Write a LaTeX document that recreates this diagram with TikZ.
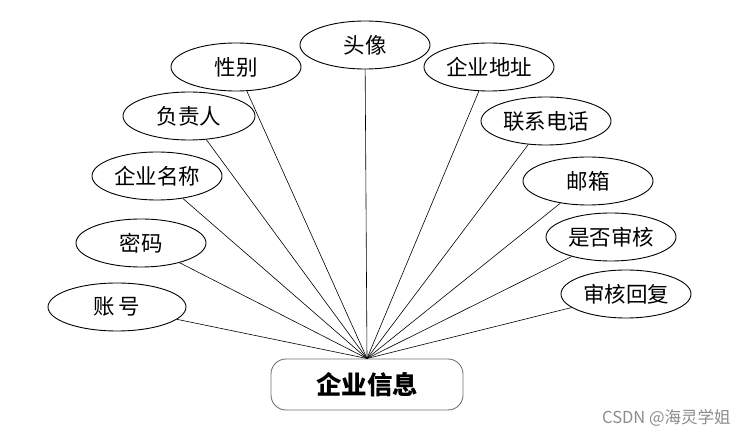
\documentclass[tikz,border=0pt]{standalone}
\usepackage{fontspec}
\newfontfamily\cjk{Noto Sans CJK SC}
\usetikzlibrary{shapes.geometric}
\begin{document}
\begin{tikzpicture}[x=1pt,y=-1pt,
  attr/.style={ellipse,draw,line width=0.9pt,minimum width=130pt,minimum height=48pt,inner sep=0pt,font=\cjk\fontsize{21.5}{21.5}\selectfont},
  ent/.style={rectangle,rounded corners=15pt,draw=black!55,line width=0.9pt,minimum width=192pt,minimum height=51pt,inner sep=0pt,font=\cjk\bfseries\fontsize{25.5}{25.5}\selectfont},
  conn/.style={line width=0.6pt}]
\useasboundingbox (0,0) rectangle (756,438);
\node[ent] (e) at (367,384.5) {企业信息};
\coordinate (c) at (367,358.5);
\node[attr,minimum width=138pt] (a1) at (117,307) {账\,号};
\node[attr] (a2) at (141,243) {密码};
\node[attr] (a3) at (157,176) {企业名称};
\node[attr,minimum width=132pt] (a4) at (189,116) {负责人};
\node[attr] (a5) at (236,67) {性别};
\node[attr] (a6) at (365,45) {头像};
\node[attr] (a7) at (489,67) {企业地址};
\node[attr] (a8) at (546,121) {联系电话};
\node[attr] (a9) at (588,181) {邮箱};
\node[attr] (a10) at (611,237) {是否审核};
\node[attr] (a11) at (626,294) {审核回复};
\foreach \i in {1,...,11} \draw[conn] (a\i) -- (c);
\node[font=\cjk\fontsize{16.5}{16.5}\selectfont,text=black!45,anchor=west,inner sep=0pt] (wm) at (602,418) {CSDN @海灵学姐};
\end{tikzpicture}
\end{document}
